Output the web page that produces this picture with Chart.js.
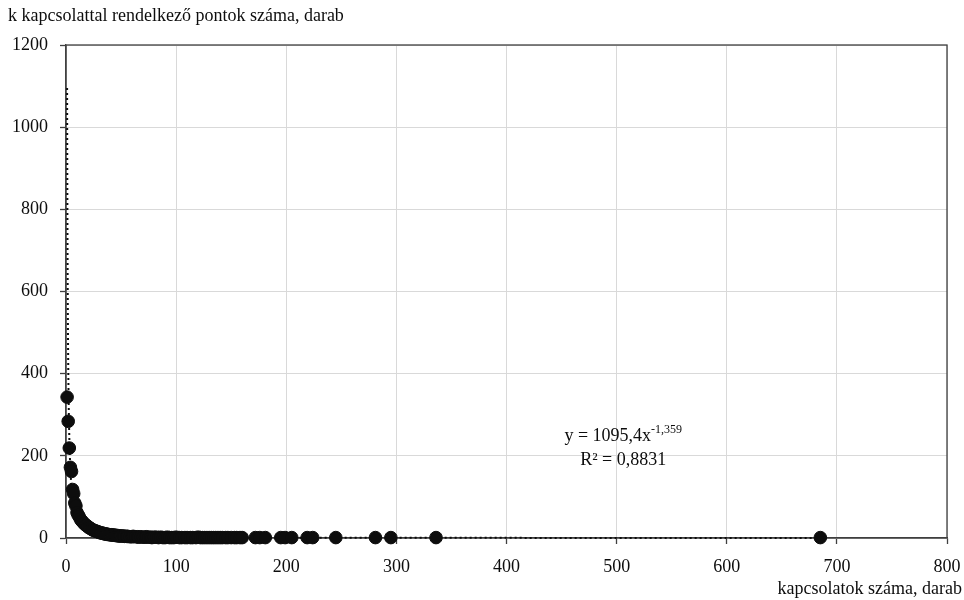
<!DOCTYPE html>
<html>
<head>
<meta charset="utf-8">
<script src="https://cdn.jsdelivr.net/npm/chart.js@4"></script>
<style>
  html, body { margin: 0; padding: 0; background: #fff; }
  #wrap { width: 964px; height: 600px; position: relative; }
</style>
</head>
<body>
<div id="wrap"><canvas id="chart"></canvas></div>
<script>
const degree = [1,2,3,4,5,6,7,8,9,10,11,12,13,14,15,16,17,18,19,20,21,22,23,24,25,26,27,28,29,30,
  31,32,33,34,35,36,37,38,39,40,41,42,43,44,45,46,47,48,49,50,52,53,55,56,58,60,61,63,65,66,68,70,
  72,73,75,77,78,80,82,84,86,88,90,92,94,96,98,100,103,105,108,110,113,115,118,120,122,124,126,128,
  130,132,134,136,138,140,142,145,147,150,153,155,158,160,172,176,181,195,199,205,219,224,245,281,295,336,685];
const nodeCount = [343,284,219,172,162,118,108,85,78,62,56,52,46,42,40,36,34,31,30,27,25,24,22,20,19,18,17,16,15,14,
  13,12,12,11,10,10,9,9,8,8,8,7,7,7,6,6,6,5,5,5,5,4,4,4,3,3,4,3,3,2,3,2,
  2,3,2,2,1,2,2,1,2,1,1,2,1,1,1,2,1,1,1,1,1,1,1,2,1,1,1,1,
  1,1,1,1,1,1,1,1,1,1,1,1,1,1,1,1,1,1,1,1,1,1,1,1,1,1,1];

// power trend line from the fitted equation
const trendA = 1095.4;
const trendB = -1.359;
const trendX = [];
for (let x = 1; x <= 685; x += (x < 20 ? 0.1 : 2)) trendX.push(x);
trendX.push(685);

const xTicks = [0, 100, 200, 300, 400, 500, 600, 700, 800];
const yTicks = [0, 200, 400, 600, 800, 1000, 1200];

const FONT = '"Liberation Serif", "DejaVu Serif", serif';
const INK = '#0d0d0d';
const AXIS = '#404040';

const points = degree.map((d, i) => ({ x: d, y: nodeCount[i] }));
const trend = trendX.map(x => ({ x, y: trendA * Math.pow(x, trendB) }));

const framePlugin = {
  id: 'frame',
  beforeDatasetsDraw(chart) {
    const { ctx, chartArea: a } = chart;
    ctx.save();
    ctx.strokeStyle = AXIS;
    ctx.lineWidth = 1.3;
    ctx.strokeRect(a.left, a.top, a.right - a.left, a.bottom - a.top);
    ctx.restore();
  },
  afterDraw(chart) {
    const { ctx, scales } = chart;
    ctx.save();
    ctx.fillStyle = INK;
    ctx.font = '18px ' + FONT;
    ctx.textBaseline = 'alphabetic';
    ctx.textAlign = 'left';
    ctx.fillText('k kapcsolattal rendelkező pontok száma, darab', 8, 21);
    ctx.textAlign = 'right';
    ctx.fillText('kapcsolatok száma, darab', 962, 594);

    // equation
    const cx = scales.x.getPixelForValue(506);
    const y1 = scales.y.getPixelForValue(236);
    const y2 = scales.y.getPixelForValue(178);
    const base = 'y = 1095,4x';
    const sup = '-1,359';
    ctx.font = '18px ' + FONT;
    const wb = ctx.measureText(base).width;
    ctx.font = '12px ' + FONT;
    const ws = ctx.measureText(sup).width;
    const start = cx - (wb + ws) / 2;
    ctx.textAlign = 'left';
    ctx.font = '18px ' + FONT;
    ctx.fillText(base, start, y1);
    ctx.font = '12px ' + FONT;
    ctx.fillText(sup, start + wb, y1 - 8);
    ctx.font = '18px ' + FONT;
    ctx.textAlign = 'center';
    ctx.fillText('R² = 0,8831', cx, y2);
    ctx.restore();
  }
};

new Chart(document.getElementById('chart'), {
  type: 'scatter',
  data: {
    datasets: [
      {
        data: points,
        backgroundColor: INK,
        borderColor: INK,
        pointRadius: 6.3,
        pointHoverRadius: 6.3,
        clip: false,
        order: 1
      },
      {
        type: 'line',
        data: trend,
        borderColor: INK,
        borderWidth: 2,
        borderDash: [2, 3],
        pointRadius: 0,
        fill: false,
        tension: 0,
        clip: false,
        order: 2
      }
    ]
  },
  options: {
    responsive: true,
    maintainAspectRatio: false,
    animation: false,
    layout: { padding: { top: 45, right: 17, left: 0, bottom: 0 } },
    plugins: {
      legend: { display: false },
      tooltip: { enabled: false }
    },
    scales: {
      x: {
        type: 'linear',
        min: 0,
        max: 800,
        afterFit: s => { s.height = 62; s.paddingLeft = 0; s.paddingRight = 0; },
        afterBuildTicks: s => { s.ticks = xTicks.map(v => ({ value: v })); },
        ticks: { color: INK, font: { family: FONT, size: 18 }, padding: 12, callback: v => String(v) },
        grid: { color: '#d9d9d9', lineWidth: 1, tickLength: 6, tickColor: AXIS, tickWidth: 1.3 },
        border: { color: AXIS, width: 1.3 }
      },
      y: {
        type: 'linear',
        min: 0,
        max: 1200,
        afterFit: s => { s.width = 66; s.paddingTop = 0; s.paddingBottom = 0; },
        afterBuildTicks: s => { s.ticks = yTicks.map(v => ({ value: v })); },
        ticks: { color: INK, font: { family: FONT, size: 18 }, padding: 12, callback: v => String(v) },
        grid: { color: '#d9d9d9', lineWidth: 1, tickLength: 6, tickColor: AXIS, tickWidth: 1.3 },
        border: { color: AXIS, width: 1.3 }
      }
    }
  },
  plugins: [framePlugin]
});
</script>
</body>
</html>
